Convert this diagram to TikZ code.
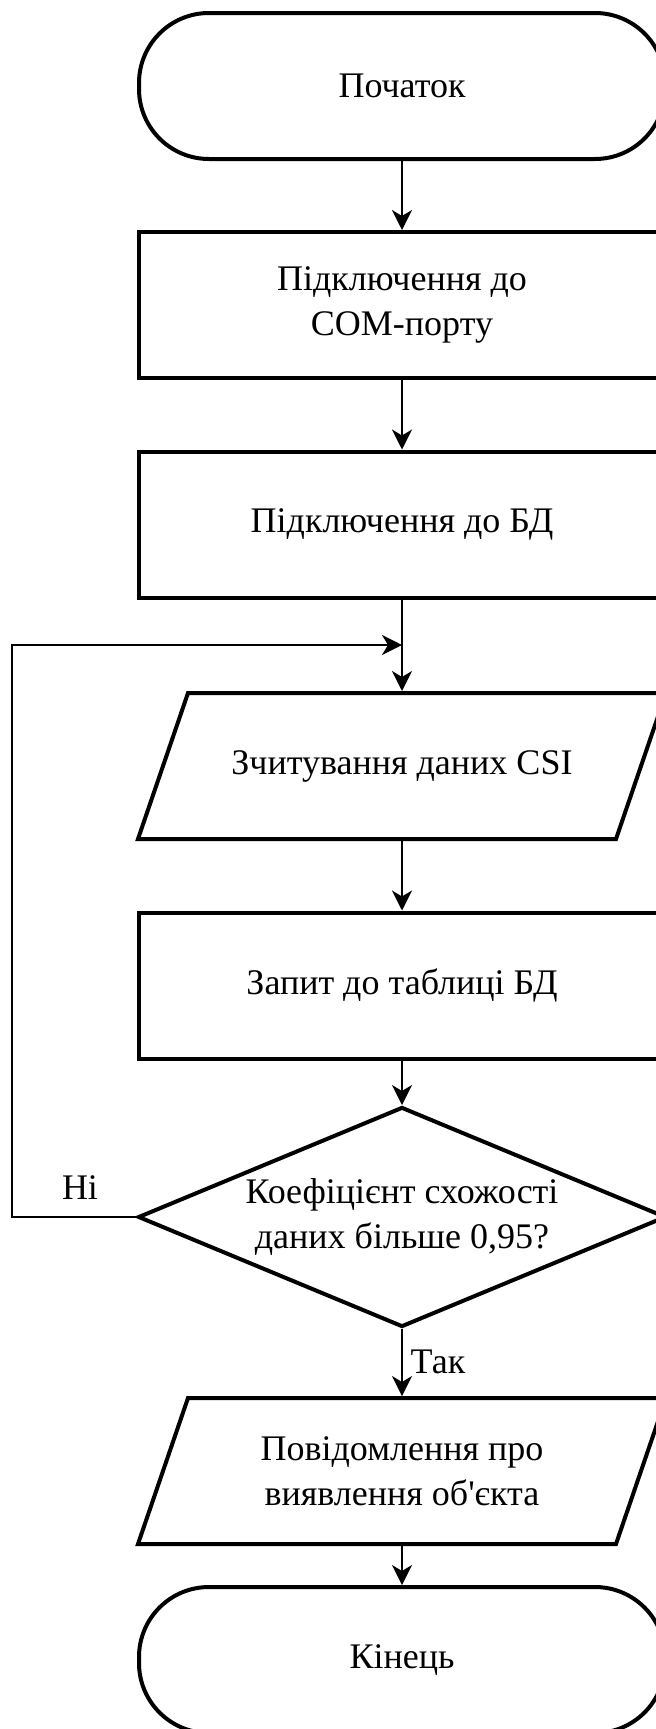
\documentclass[tikz,border=0pt]{standalone}
\usepackage{fontspec}
\setmainfont{Liberation Serif}[Ligatures=TeXOff]
\usetikzlibrary{shapes.geometric,arrows.meta}
\begin{document}
\begin{tikzpicture}[x=0.5pt,y=-0.5pt,
  base/.style={draw, line width=2pt, fill=white, inner sep=0pt, align=center,
    font=\fontsize{18}{22.5}\selectfont},
  term/.style={base, rectangle, rounded corners=35pt, minimum width=263pt, minimum height=73pt},
  proc/.style={base, rectangle, minimum width=263pt, minimum height=73pt},
  iotext/.style={rectangle, inner sep=0pt, outer sep=0pt, align=center,
    font=\fontsize{18}{22.5}\selectfont, minimum width=264pt, minimum height=73pt},
  ioshape/.style={draw, line width=2pt, fill=white, line join=miter},
  dec/.style={base, diamond, aspect=2.4, minimum width=264pt, minimum height=110pt},
  conn/.style={line width=1pt, -{Stealth[length=10pt,width=10pt,inset=3pt]}},
  lbl/.style={font=\fontsize{18}{22.5}\selectfont, inner sep=0pt}]
\useasboundingbox (0,0) rectangle (656,1729);
\fill[white] (0,0) rectangle (656,1729);
\clip (0,0) rectangle (656,1729);

\node[term] (start) at (402,86) {Початок};
\node[proc] (com) at (402,305) {Підключення до\\COM-порту};
\node[proc] (db) at (402,524.5) {Підключення до БД};
\node[iotext] (read) at (402,766) {};
\draw[ioshape] ([xshift=25pt]read.north west) -- (read.north east)
  -- ([xshift=-25pt]read.south east) -- (read.south west) -- cycle;
\node[iotext] (readtxt) at (read.center) {Зчитування даних CSI};
\node[proc] (query) at (402,985.5) {Запит до таблиці БД};
\node[dec] (check) at (402,1217) {Коефіцієнт схожості\\даних більше 0,95?};
\node[iotext] (msg) at (402,1471) {};
\draw[ioshape] ([xshift=25pt]msg.north west) -- (msg.north east)
  -- ([xshift=-25pt]msg.south east) -- (msg.south west) -- cycle;
\node[iotext] (msgtxt) at (msg.center) {Повідомлення про\\виявлення об'єкта};
\node[term] (stop) at (402,1660) {Кінець};

\coordinate (loopA) at (12,1217);
\coordinate (loopB) at (12,645);
\coordinate (join) at (402,645);

\draw[conn] (start.south) -- (com.north);
\draw[conn] (com.south) -- (db.north);
\draw[conn] (db.south) -- ([yshift=1pt]read.north);
\draw[conn] ([yshift=-1pt]read.south) -- (query.north);
\draw[conn] (query.south) -- (check.north);
\draw[conn] (check.south) -- ([yshift=1pt]msg.north);
\draw[conn] ([yshift=-1pt]msg.south) -- (stop.north);
\draw[conn] (check.west) -- (loopA) -- (loopB) -- (join);

\node[lbl] (no) at (80,1188) {Ні};
\node[lbl] (yes) at (438,1362) {Так};
\end{tikzpicture}
\end{document}
